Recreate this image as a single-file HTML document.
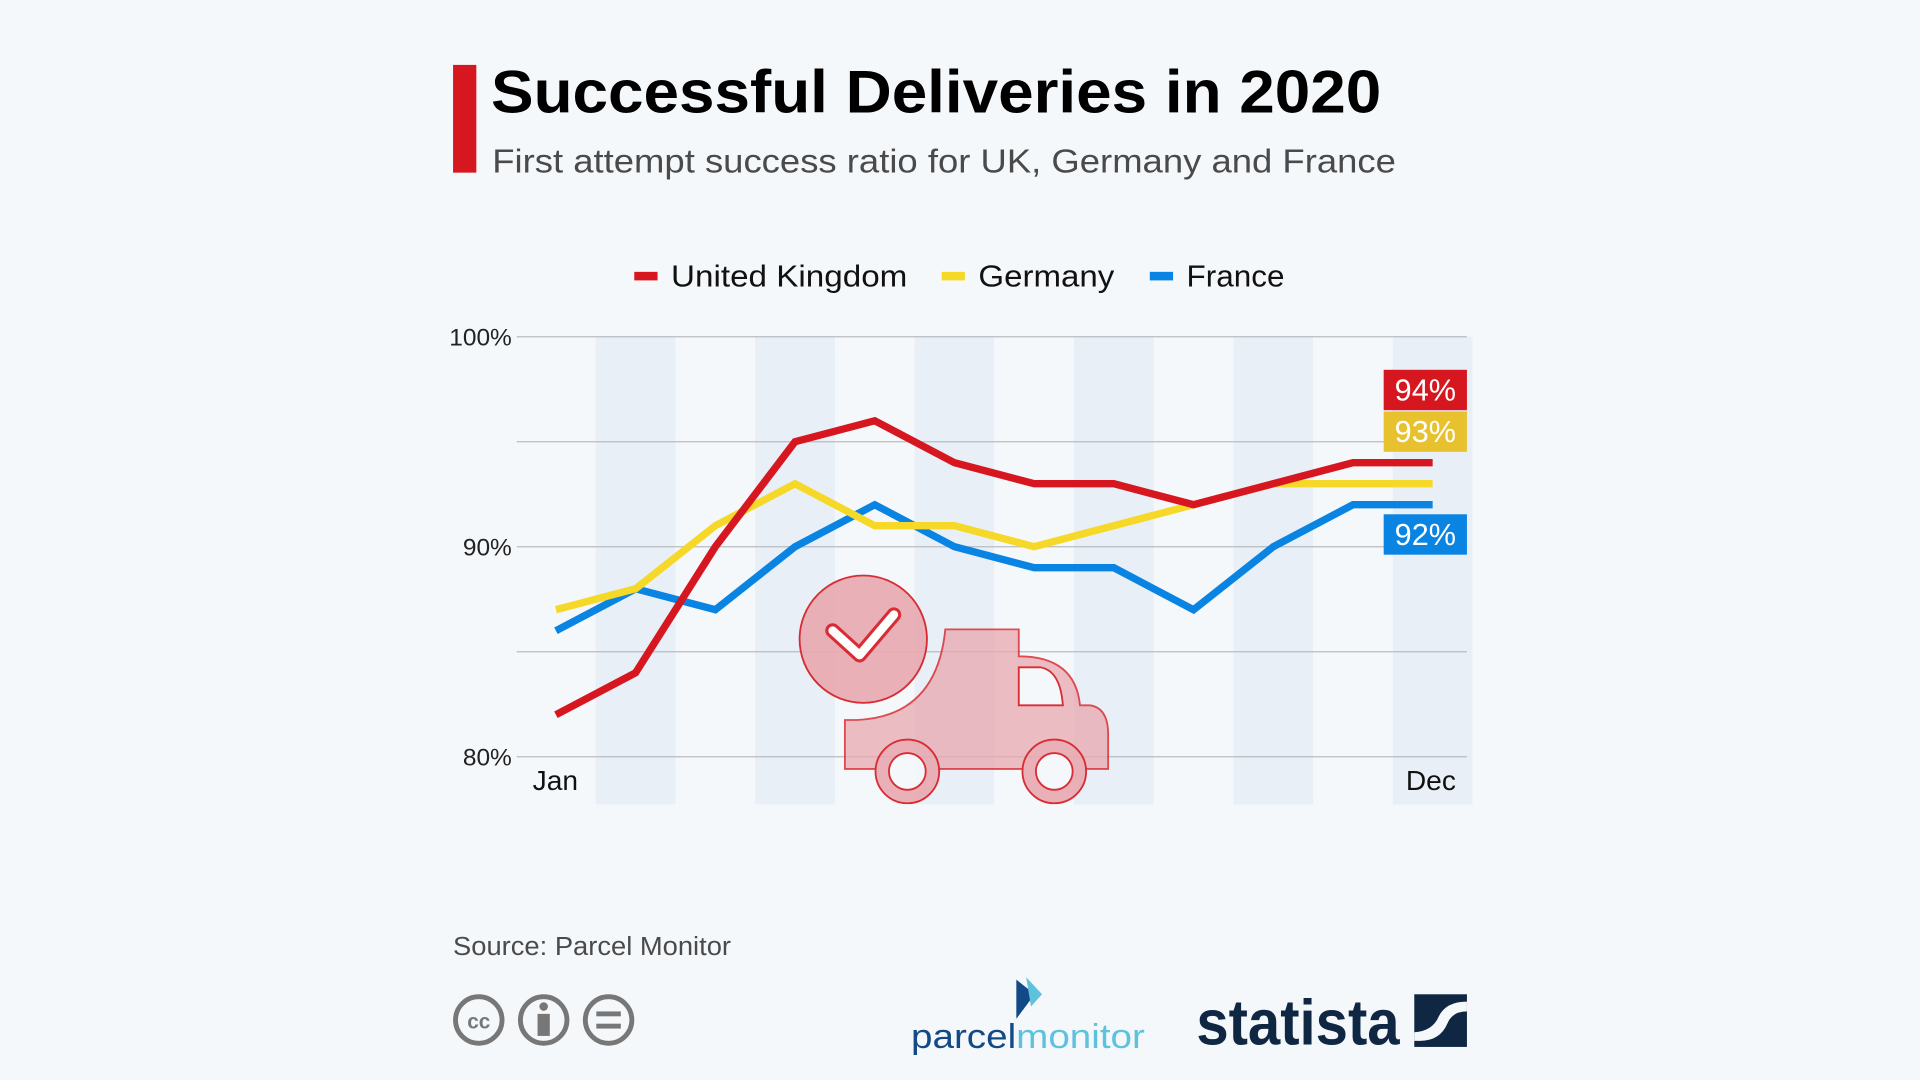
<!DOCTYPE html>
<html><head><meta charset="utf-8"><style>
html,body{margin:0;padding:0;background:#f5f8fb;}
svg{display:block;font-family:"Liberation Sans",sans-serif;}
</style></head><body>
<svg id="chart" width="1920" height="1080" viewBox="0 0 1568 882">
<rect width="1568" height="882" fill="#f5f8fb"/>
<rect x="370" y="53" width="19" height="88" fill="#d7171f"/>
<text x="401" y="92" font-size="49" font-weight="bold" fill="#000" textLength="727" lengthAdjust="spacingAndGlyphs">Successful Deliveries in 2020</text>
<text x="402" y="141" font-size="27" fill="#4a4a4a" textLength="738" lengthAdjust="spacingAndGlyphs">First attempt success ratio for UK, Germany and France</text>
<g id="legend"></g>
<g id="bands"></g><g id="grid"></g><g id="ticks"></g>
<g id="truck" opacity="0.9">
 <path d="M690 588 L700 588 Q765 585 772 514 L832 514 L832 536 Q878 536 882 576 L890 576 Q905 578 905 600 L905 628 L690 628 Z" fill="#e8aab0" stroke="#d7171f" stroke-width="1.5" opacity="0.85"/>
 <path d="M832 545 L850 545 Q866 548 868 576 L832 576 Z" fill="#f5f8fb" stroke="#d7171f" stroke-width="1.5"/>
 <circle cx="705" cy="522" r="52" fill="#e8aab0" stroke="#d7171f" stroke-width="1.5"/>
 <path d="M680 515 L702 535 L730 502" fill="none" stroke="#d7171f" stroke-width="12" stroke-linejoin="round" stroke-linecap="round"/>
 <path d="M680 515 L702 535 L730 502" fill="none" stroke="#fff" stroke-width="7" stroke-linejoin="round" stroke-linecap="round"/>
 <circle cx="741" cy="630" r="26" fill="#e8aab0" stroke="#d7171f" stroke-width="1.5"/>
 <circle cx="741" cy="630" r="15" fill="#f5f8fb" stroke="#d7171f" stroke-width="1.5"/>
 <circle cx="861" cy="630" r="26" fill="#e8aab0" stroke="#d7171f" stroke-width="1.5"/>
 <circle cx="861" cy="630" r="15" fill="#f5f8fb" stroke="#d7171f" stroke-width="1.5"/>
</g>
<g id="lines"></g><g id="endlabels"></g>
<text x="370" y="780" font-size="21" fill="#4a4a4a" textLength="227" lengthAdjust="spacingAndGlyphs">Source: Parcel Monitor</text>
<g fill="none" stroke="#777" stroke-width="4">
 <circle cx="391" cy="833" r="19"/><circle cx="444" cy="833" r="19"/><circle cx="497" cy="833" r="19"/>
 <text x="391" y="840" font-size="17" font-weight="bold" fill="#777" stroke="none" text-anchor="middle">cc</text>
 <circle cx="444" cy="822" r="3.5" fill="#777" stroke="none"/><rect x="439" y="828" width="10" height="18" fill="#777" stroke="none"/>
 <rect x="487" y="826" width="20" height="4" fill="#777" stroke="none"/><rect x="487" y="836" width="20" height="4" fill="#777" stroke="none"/>
</g>
<g>
 <path d="M830 800 L845 812 L830 832 Z" fill="#134a86"/><path d="M838 798 L851 812 L842 822 Z" fill="#5fc2dd"/>
 <text x="744" y="856" font-size="28" fill="#134a86" textLength="191" lengthAdjust="spacingAndGlyphs">parcel<tspan fill="#5fc2dd">monitor</tspan></text>
</g>
<g>
 <text x="977" y="853" font-size="52" font-weight="bold" fill="#0f2742" textLength="166" lengthAdjust="spacingAndGlyphs">statista</text>
 <rect x="1155" y="812" width="43" height="43" fill="#0f2742"/>
 <path d="M1155 843 Q1170 842 1175 830 Q1181 818 1198 818 L1198 826 Q1186 826 1182 836 Q1176 850 1160 850 L1155 850 Z" fill="#f5f8fb"/>
</g>
</svg>
<script>
const months=["Jan","Feb","Mar","Apr","May","Jun","Jul","Aug","Sep","Oct","Nov","Dec"];
const ukValues=[82,84,90,95,96,94,93,93,92,93,94,94];
const deValues=[87,88,91,93,91,91,90,91,92,93,93,93];
const frValues=[86,88,87,90,92,90,89,89,87,90,92,92];
const yTicks=[80,85,90,95,100];
const yTickLabels=["80%","","90%","","100%"];
const seriesNames=["United Kingdom","Germany","France"];
const NS="http://www.w3.org/2000/svg";
const X0=454,X1=1170,Y0=618,Y1=275,YMIN=80,YMAX=100;
const xs=i=>X0+(X1-X0)*i/(months.length-1);
const ys=v=>Y0-(v-YMIN)/(YMAX-YMIN)*(Y0-Y1);
const step=(X1-X0)/(months.length-1);
function mk(tag,attrs,parent){const e=document.createElementNS(NS,tag);for(const k in attrs)e.setAttribute(k,attrs[k]);document.getElementById(parent).appendChild(e);return e;}
months.forEach((m,i)=>{if(i%2===1){const b=mk('rect',{x:xs(i)-step/2,y:Y1,width:step,height:657-Y1,fill:'#e9eff7'},'bands');

}});
yTicks.forEach((t,i)=>{const l=mk('line',{x1:422,x2:1198,y1:ys(t),y2:ys(t),stroke:'#b9bcc0','stroke-width':1},'grid');


if(yTickLabels[i]){const tx=mk('text',{x:418,y:ys(t)+7,'font-size':20,'text-anchor':'end',fill:'#222'},'ticks');tx.textContent=yTickLabels[i];

}});
[[0,'start'],[11,'end']].forEach(([i,a])=>{const t=mk('text',{x:i===0?xs(i)-19:xs(i)+19,y:645,'font-size':23,'text-anchor':a,fill:'#111'},'ticks');t.textContent=months[i];

});
const series=[[ukValues,'#d7171f','#d7171f'],[deValues,'#f6d928','#e8c12e'],[frValues,'#0a84e3','#0a84e3']];
const order=[2,1,0];
order.forEach(si=>{const [vals,c]=series[si];const p=mk('polyline',{points:vals.map((v,i)=>xs(i)+','+ys(v)).join(' '),fill:'none',stroke:c,'stroke-width':6,'stroke-linejoin':'miter'},'lines');

});
const labelY=[318,352,436];
series.forEach(([vals,c,bc],si)=>{const r=mk('rect',{x:1130,y:labelY[si]-16,width:68,height:33,fill:bc},'endlabels');


const t=mk('text',{x:1164,y:labelY[si]+9,'font-size':25,'text-anchor':'middle',fill:'#fff'},'endlabels');t.textContent=vals[vals.length-1]+'%';

});
const legX=[518,769,939];
const legW=[193,111,80];
seriesNames.forEach((n,i)=>{const r=mk('rect',{x:legX[i],y:222,width:19,height:7,fill:series[i][1]},'legend');


const t=mk('text',{x:legX[i]+30,y:234,'font-size':25,fill:'#111',textLength:legW[i],lengthAdjust:'spacingAndGlyphs'},'legend');t.textContent=n;

});
</script>
</body></html>
